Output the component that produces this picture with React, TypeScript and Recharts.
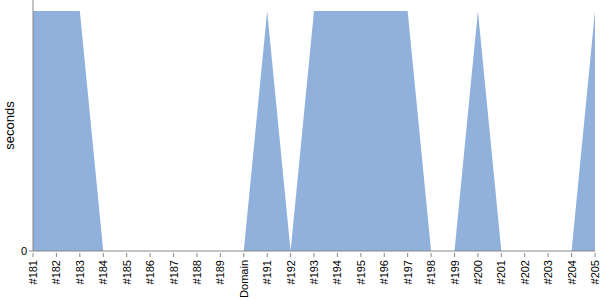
import * as React from "react";
import { AreaChart, Area, XAxis, YAxis } from "recharts";

const builds = [
  "#181", "#182", "#183", "#184", "#185", "#186", "#187", "#188", "#189", "Domain",
  "#191", "#192", "#193", "#194", "#195", "#196", "#197", "#198", "#199", "#200",
  "#201", "#202", "#203", "#204", "#205",
];
const seconds = [1, 1, 1, 0, 0, 0, 0, 0, 0, 0, 1, 0, 1, 1, 1, 1, 1, 0, 0, 1, 0, 0, 0, 0, 1];
const yTicks = [0];

const data = builds.map((name, i) => ({ name, seconds: seconds[i] }));

function BuildTick(props: any) {
  const { x, y, payload } = props;
  return (
    <g transform={`translate(${x},${y})`}>
      <line x1={0} y1={0} x2={0} y2={4} stroke="#888" />
      <text
        transform="rotate(-90)"
        x={-7}
        y={4}
        textAnchor="end"
        fontSize={11}
        fontFamily="Liberation Sans"
        fill="#000"
      >
        {payload.value}
      </text>
    </g>
  );
}

export default function App() {
  return (
    <div style={{ position: "absolute", left: 0, top: 0 }}>
      <AreaChart
        width={600}
        height={300}
        data={data}
        margin={{ top: 0, right: 5, left: 0, bottom: 0 }}
        style={{ overflow: "visible" }}
      >
        <XAxis
          dataKey="name"
          interval={0}
          height={49}
          tickLine={false}
          tickSize={0}
          axisLine={{ stroke: "#888" }}
          tick={<BuildTick />}
        />
        <YAxis
          width={33}
          domain={[0, 1.046]}
          ticks={yTicks}
          axisLine={{ stroke: "#888" }}
          tickLine={{ stroke: "#888" }}
          tickSize={4}
          tick={{ fontSize: 11, fontFamily: "Liberation Sans", fill: "#000" }}
          label={{
            value: "seconds",
            angle: -90,
            position: "insideLeft",
            dx: 4,
            style: { fontSize: 13, fontFamily: "Liberation Sans", fill: "#000", textAnchor: "middle" },
          }}
        />
        <Area
          type="linear"
          dataKey="seconds"
          stroke="none"
          fill="#8fb1db"
          fillOpacity={1}
          isAnimationActive={false}
        />
      </AreaChart>
    </div>
  );
}
